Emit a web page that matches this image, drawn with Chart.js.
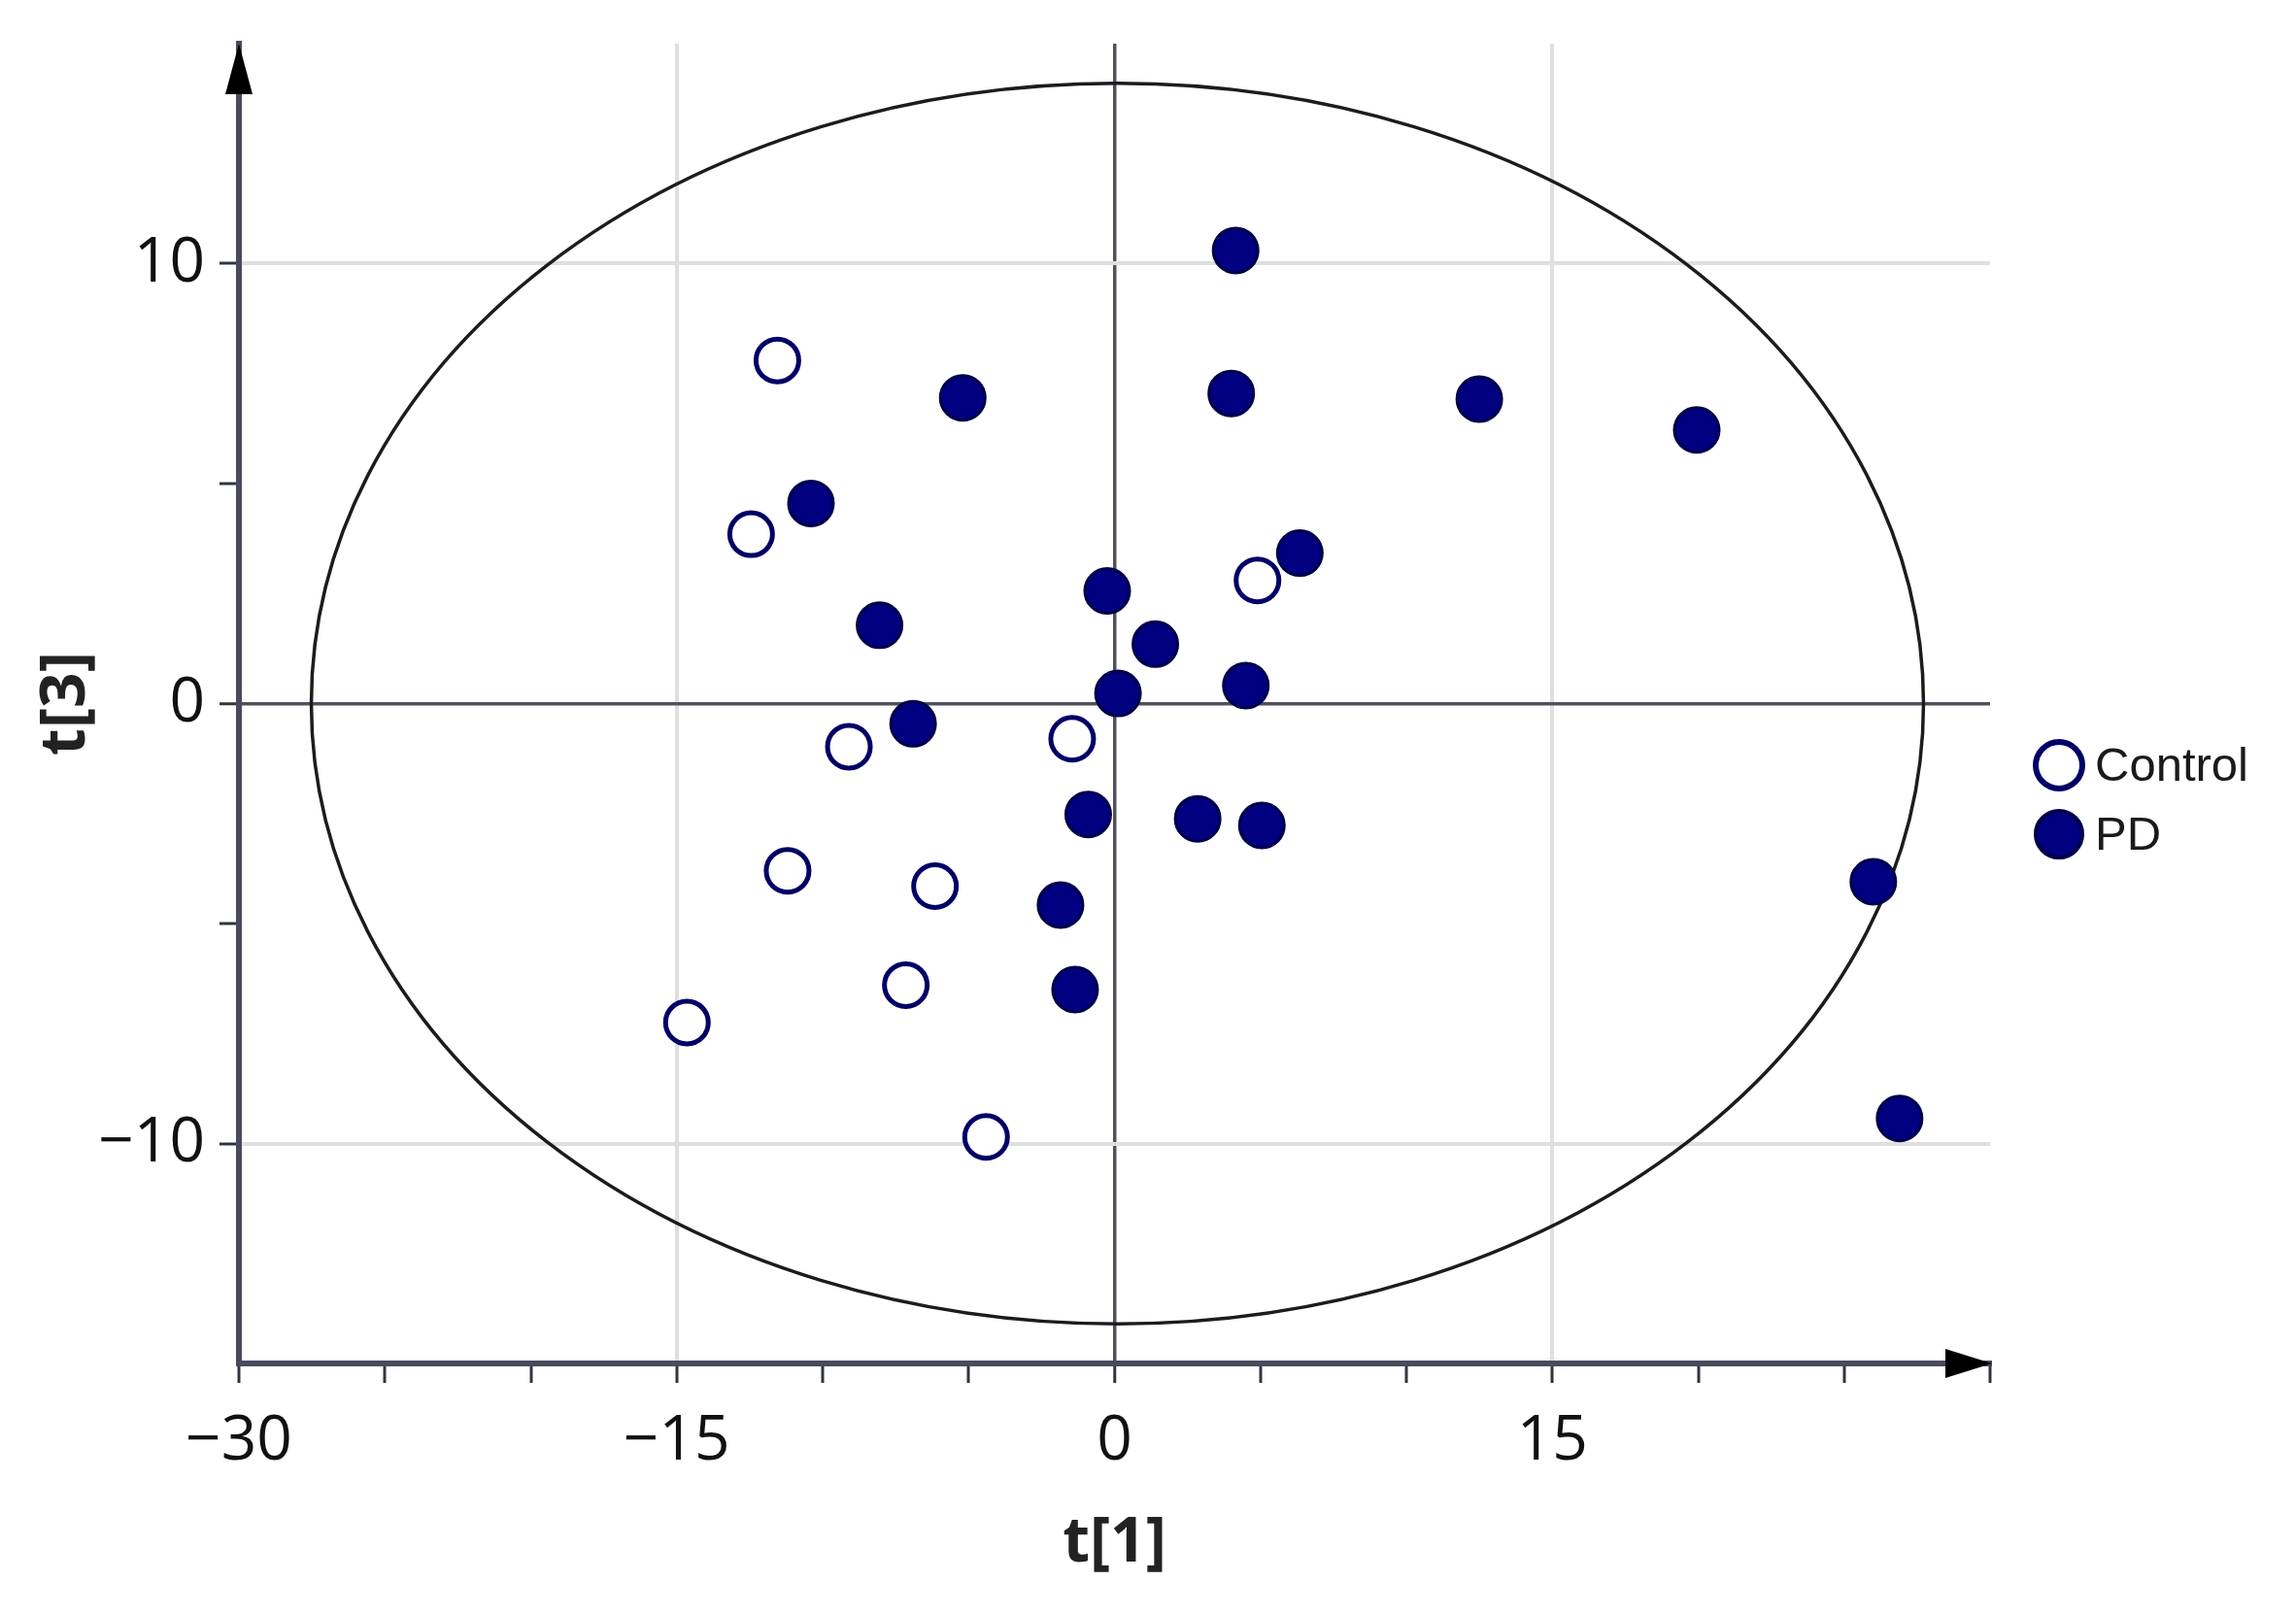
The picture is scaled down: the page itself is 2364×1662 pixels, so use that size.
<!DOCTYPE html>
<html>
<head>
<meta charset="utf-8">
<script src="https://cdn.jsdelivr.net/npm/chart.js@4.4.1/dist/chart.umd.min.js"></script>
<style>
  html, body { margin: 0; padding: 0; background: #fff; }
  #wrap { width: 2364px; height: 1662px; }
</style>
</head>
<body>
<div id="wrap"><canvas id="chart"></canvas></div>
<script>
// score plot values: t[1] (x) and t[3] (y)
var controlX = [-11.55, -12.45, 4.9, -9.1, -1.45, -11.2, -6.15, -7.15, -14.65, -4.4];
var controlY = [7.8, 3.85, 2.8, -0.98, -0.8, -3.8, -4.15, -6.4, -7.25, -9.85];

var pdX = [4.15, -5.2, 4.0, 12.5, 19.95, -10.4, 6.35, -8.05, -0.25, 1.4,
           0.12, 4.5, -6.9, -0.9, 2.85, 5.05, -1.85, -1.35, 26.0, 26.9];
var pdY = [10.3, 6.95, 7.05, 6.92, 6.22, 4.55, 3.42, 1.78, 2.56, 1.35,
           0.23, 0.41, -0.46, -2.52, -2.62, -2.77, -4.58, -6.5, -4.05, -9.43];

var groupLabels = ['Control', 'PD'];

// Hotelling T2 ellipse (centre and semi axes in t[1] / t[3] units)
var ellipseCx = 0.1;
var ellipseA = 27.62;
var ellipseB = 14.1;

function toPoints(xs, ys) {
  return xs.map(function (x, i) { return { x: x, y: ys[i] }; });
}

function minus(v) {
  return v < 0 ? '\u2212' + Math.abs(v) : String(v);
}

var ellipsePlugin = {
  id: 'ellipse',
  beforeDatasetsDraw: function (chart) {
    var ctx = chart.ctx, sx = chart.scales.x, sy = chart.scales.y;
    var cx = sx.getPixelForValue(ellipseCx), cy = sy.getPixelForValue(0);
    var rx = sx.getPixelForValue(ellipseCx + ellipseA) - cx;
    var ry = cy - sy.getPixelForValue(ellipseB);
    ctx.save();
    ctx.beginPath();
    ctx.ellipse(cx, cy, rx, ry, 0, 0, Math.PI * 2);
    ctx.lineWidth = 3.5;
    ctx.strokeStyle = '#1c1c1c';
    ctx.stroke();
    ctx.restore();
  }
};

var arrowLegendPlugin = {
  id: 'arrowsLegend',
  afterDraw: function (chart) {
    var ctx = chart.ctx, a = chart.chartArea;
    ctx.save();
    ctx.fillStyle = '#000';
    // x arrow
    ctx.beginPath();
    ctx.moveTo(a.right + 2, a.bottom);
    ctx.lineTo(a.right - 46, a.bottom - 15);
    ctx.lineTo(a.right - 46, a.bottom + 15);
    ctx.closePath();
    ctx.fill();
    // y arrow
    ctx.beginPath();
    ctx.moveTo(a.left, a.top);
    ctx.lineTo(a.left - 14, a.top + 52);
    ctx.lineTo(a.left + 14, a.top + 52);
    ctx.closePath();
    ctx.fill();

    // legend
    var lx = a.right + 71;
    var ly = [788, 859];
    chart.data.datasets.forEach(function (ds, i) {
      ctx.beginPath();
      ctx.arc(lx, ly[i], 24, 0, Math.PI * 2);
      ctx.fillStyle = ds.backgroundColor;
      ctx.fill();
      ctx.lineWidth = ds.borderWidth + 1;
      ctx.strokeStyle = ds.borderColor;
      ctx.stroke();
      ctx.fillStyle = '#1a1a1a';
      ctx.font = '49px "Liberation Sans", Arial, sans-serif';
      ctx.textBaseline = 'middle';
      ctx.textAlign = 'left';
      ctx.fillText(ds.label, lx + 37, ly[i] + 2);
    });
    ctx.restore();
  }
};

var axisColor = '#4a4a5e';
var zeroColor = '#50505c';
var gridColor = '#dde0de';

new Chart(document.getElementById('chart'), {
  type: 'scatter',
  data: {
    datasets: [
      {
        label: groupLabels[0],
        data: toPoints(controlX, controlY),
        backgroundColor: '#ffffff',
        borderColor: '#000066',
        borderWidth: 5,
        pointRadius: 22,
        pointHoverRadius: 22,
        order: 1
      },
      {
        label: groupLabels[1],
        data: toPoints(pdX, pdY),
        backgroundColor: '#000080',
        borderColor: '#00004a',
        borderWidth: 3,
        pointRadius: 23,
        pointHoverRadius: 23,
        order: 0
      }
    ]
  },
  options: {
    responsive: true,
    maintainAspectRatio: false,
    animation: false,
    events: [],
    layout: { padding: { top: 45, right: 315, left: 0, bottom: 0 } },
    plugins: {
      legend: { display: false },
      tooltip: { enabled: false }
    },
    scales: {
      x: {
        type: 'linear',
        min: -30,
        max: 30,
        afterFit: function (s) { s.height = 258; s.paddingLeft = 0; s.paddingRight = 0; },
        border: { color: axisColor, width: 6 },
        grid: {
          tickLength: 20,
          tickWidth: 3,
          tickColor: '#333340',
          lineWidth: function (c) { return c.tick && c.tick.value === 0 ? 3.5 : 4; },
          color: function (c) {
            var v = c.tick ? c.tick.value : null;
            if (v === 0) return zeroColor;
            if (v === -15 || v === 15) return gridColor;
            return 'rgba(0,0,0,0)';
          }
        },
        ticks: {
          stepSize: 5,
          padding: 22,
          color: '#111',
          font: { family: '"Open Sans", sans-serif', size: 64 },
          callback: function (v) { return (v % 15 === 0 && v !== 30) ? minus(v) : ''; }
        },
        title: {
          display: true,
          text: 't[1]',
          color: '#222',
          font: { family: '"Open Sans", sans-serif', size: 64, weight: 'bold' },
          padding: { top: 0, bottom: 34 }
        }
      },
      y: {
        type: 'linear',
        min: -15,
        max: 15,
        afterFit: function (s) { s.width = 246; s.paddingTop = 0; s.paddingBottom = 0; },
        border: { color: axisColor, width: 6 },
        grid: {
          tickLength: 20,
          tickWidth: 3,
          tickColor: function (c) {
            var v = c.tick ? c.tick.value : null;
            return (v === 15 || v === -15) ? 'rgba(0,0,0,0)' : '#333340';
          },
          lineWidth: function (c) { return c.tick && c.tick.value === 0 ? 3.5 : 4; },
          color: function (c) {
            var v = c.tick ? c.tick.value : null;
            if (v === 0) return zeroColor;
            if (v === -10 || v === 10) return gridColor;
            return 'rgba(0,0,0,0)';
          }
        },
        ticks: {
          stepSize: 5,
          padding: 15,
          color: '#111',
          font: { family: '"Open Sans", sans-serif', size: 64 },
          callback: function (v) { return (v % 10 === 0 && Math.abs(v) < 15) ? minus(v) : ''; }
        },
        title: {
          display: true,
          text: 't[3]',
          color: '#222',
          font: { family: '"Open Sans", sans-serif', size: 64, weight: 'bold' },
          padding: { top: 30, bottom: 0 }
        }
      }
    }
  },
  plugins: [ellipsePlugin, arrowLegendPlugin]
});
</script>
</body>
</html>
